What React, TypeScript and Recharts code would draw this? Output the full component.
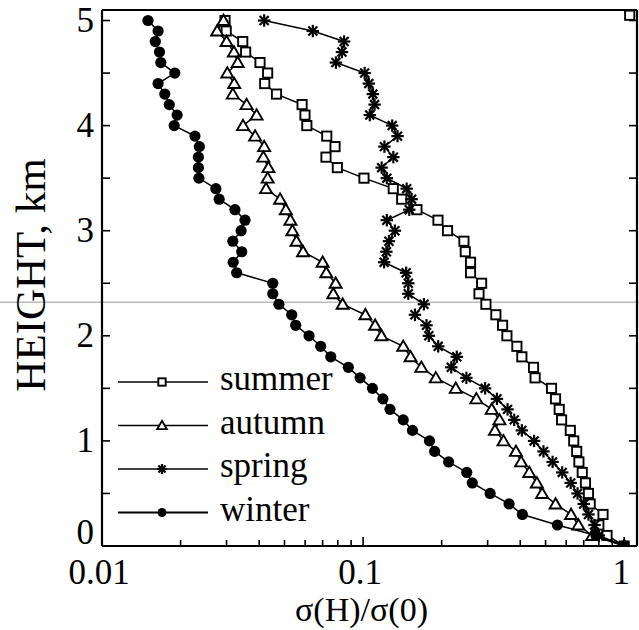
import React from "react";
import {
  ScatterChart,
  Scatter,
  XAxis,
  YAxis,
  Legend,
  ReferenceLine,
} from "recharts";

const FONT = '"Liberation Serif", "Times New Roman", Times, serif';

// heights shared by all four profiles, km
const HEIGHTS = [
  5.0, 4.9, 4.8, 4.7, 4.6, 4.5, 4.4, 4.3, 4.2, 4.1,
  4.0, 3.9, 3.8, 3.7, 3.6, 3.5, 3.4, 3.3, 3.2, 3.1,
  3.0, 2.9, 2.8, 2.7, 2.6, 2.5, 2.4, 2.3, 2.2, 2.1,
  2.0, 1.9, 1.8, 1.7, 1.6, 1.5, 1.4, 1.3, 1.2, 1.1,
  1.0, 0.9, 0.8, 0.7, 0.6, 0.5, 0.4, 0.3, 0.2, 0.1, 0,
];

// sigma(H)/sigma(0) for each season, same order as HEIGHTS
const SUMMER = [
  0.0296, 0.0299, 0.0346, 0.0355, 0.0403, 0.0431, 0.042, 0.0466, 0.0584, 0.0599,
  0.0609, 0.0726, 0.0781, 0.0721, 0.0797, 0.1008, 0.1305, 0.1406, 0.1608, 0.1936,
  0.2106, 0.2434, 0.2463, 0.258, 0.258, 0.2845, 0.278, 0.2955, 0.3226, 0.3423,
  0.3556, 0.3883, 0.4057, 0.4497, 0.456, 0.527, 0.546, 0.564, 0.576, 0.622,
  0.641, 0.658, 0.671, 0.691, 0.711, 0.73, 0.741, 0.83, 0.8, 0.86, 1.0,
];

const AUTUMN = [
  0.0292, 0.0276, 0.03, 0.032, 0.0331, 0.0302, 0.0321, 0.0317, 0.0358, 0.0391,
  0.0347, 0.0386, 0.0418, 0.0415, 0.0434, 0.0431, 0.0425, 0.0481, 0.0506, 0.0527,
  0.0536, 0.0556, 0.0589, 0.07, 0.0723, 0.0785, 0.0769, 0.0835, 0.102, 0.1112,
  0.1176, 0.1425, 0.152, 0.1672, 0.19, 0.2265, 0.2716, 0.311, 0.333, 0.32,
  0.345, 0.385, 0.403, 0.433, 0.463, 0.485, 0.546, 0.626, 0.668, 0.755, 1.0,
];

const SPRING = [
  0.0418, 0.0642, 0.0846, 0.083, 0.0787, 0.1014, 0.1052, 0.109, 0.1107, 0.1061,
  0.1293, 0.1355, 0.1207, 0.1306, 0.1178, 0.1233, 0.1469, 0.1534, 0.1503, 0.1233,
  0.1324, 0.1256, 0.1228, 0.1204, 0.1462, 0.149, 0.149, 0.171, 0.158, 0.175,
  0.1786, 0.194, 0.2285, 0.2177, 0.2487, 0.2935, 0.3256, 0.3575, 0.3793, 0.4057,
  0.452, 0.491, 0.532, 0.579, 0.624, 0.663, 0.7, 0.73, 0.77, 0.8, 1.0,
];

const WINTER = [
  0.015, 0.0164, 0.016, 0.0166, 0.0168, 0.019, 0.0164, 0.0174, 0.0181, 0.0194,
  0.0189, 0.0227, 0.0236, 0.0234, 0.0234, 0.0235, 0.0273, 0.0281, 0.0323, 0.0353,
  0.0341, 0.0317, 0.0343, 0.0318, 0.0328, 0.0451, 0.0451, 0.0476, 0.0533, 0.0552,
  0.0621, 0.0688, 0.0752, 0.0878, 0.0974, 0.1086, 0.1191, 0.1268, 0.1425, 0.1546,
  0.1796, 0.188, 0.2126, 0.2496, 0.262, 0.3067, 0.3624, 0.4076, 0.555, 0.78, 1.0,
];

// lone square sitting in the top right corner of the frame
const STRAY = [{ x: 1.05, y: 5.05 }];

const X_TICKS = [
  0.01, 0.02, 0.03, 0.04, 0.05, 0.06, 0.07, 0.08, 0.09,
  0.1, 0.2, 0.3, 0.4, 0.5, 0.6, 0.7, 0.8, 0.9, 1,
];
const X_LABELS = [0.01, 0.1, 1];
const Y_TICKS = [0, 0.5, 1, 1.5, 2, 2.5, 3, 3.5, 4, 4.5, 5];
const Y_LABELS = [0, 1, 2, 3, 4, 5];

type Kind = "square" | "triangle" | "star" | "circle";

const SERIES: { name: string; kind: Kind; values: number[] }[] = [
  { name: "summer", kind: "square", values: SUMMER },
  { name: "autumn", kind: "triangle", values: AUTUMN },
  { name: "spring", kind: "star", values: SPRING },
  { name: "winter", kind: "circle", values: WINTER },
];

const toPoints = (values: number[]) =>
  values.map((v, i) => ({ x: v, y: HEIGHTS[i] }));

const Marker = ({ kind, cx, cy, s = 1 }: { kind: Kind; cx: number; cy: number; s?: number }) => {
  if (kind === "square") {
    const h = 4.6 * s;
    return (
      <rect x={cx - h} y={cy - h} width={2 * h} height={2 * h}
        fill="#fff" stroke="#000" strokeWidth={1.9} />
    );
  }
  if (kind === "triangle") {
    const w = 6 * s, t = 5.8 * s, b = 4.5 * s;
    return (
      <polygon
        points={`${cx},${cy - t} ${cx - w},${cy + b} ${cx + w},${cy + b}`}
        fill="#fff" stroke="#000" strokeWidth={1.9} />
    );
  }
  if (kind === "star") {
    const r = 6.2 * s, d = r * 0.72;
    return (
      <g stroke="#000" strokeWidth={2.2}>
        <line x1={cx - r} y1={cy} x2={cx + r} y2={cy} />
        <line x1={cx} y1={cy - r} x2={cx} y2={cy + r} />
        <line x1={cx - d} y1={cy - d} x2={cx + d} y2={cy + d} />
        <line x1={cx - d} y1={cy + d} x2={cx + d} y2={cy - d} />
      </g>
    );
  }
  return <circle cx={cx} cy={cy} r={5.6 * s} fill="#000" />;
};

const textStyle = { fontFamily: FONT, fontSize: 35, fill: "#000" };

// ticks point into the plot, labels sit outside
const BottomTick = ({ x, y, payload }: any) => {
  const major = X_LABELS.includes(payload.value);
  return (
    <g>
      <line x1={x} y1={y} x2={x} y2={y - (major ? 9 : 6)} stroke="#000" strokeWidth={1.6} />
      {major && (
        <text x={x - 3} y={y + 38} textAnchor="middle" {...textStyle}>
          {String(payload.value)}
        </text>
      )}
    </g>
  );
};

const TopTick = ({ x, y, payload }: any) => {
  const major = X_LABELS.includes(payload.value);
  return <line x1={x} y1={y} x2={x} y2={y + (major ? 9 : 6)} stroke="#000" strokeWidth={1.6} />;
};

const LeftTick = ({ x, y, payload }: any) => (
  <g>
    <line x1={x} y1={y} x2={x + 8} y2={y} stroke="#000" strokeWidth={1.6} />
    {Y_LABELS.includes(payload.value) && (
      <text x={x - 8} y={payload.value === 0 ? y - 2 : y + 11} textAnchor="end" {...textStyle}>
        {String(payload.value)}
      </text>
    )}
  </g>
);

const RightTick = ({ x, y }: any) => (
  <line x1={x} y1={y} x2={x - 8} y2={y} stroke="#000" strokeWidth={1.6} />
);

const renderLegend = () => (
  <svg width={250} height={180}>
    {SERIES.map((s, i) => {
      const cy = 22 + i * 43.5;
      return (
        <g key={s.name}>
          <line x1={8} y1={cy} x2={98} y2={cy} stroke="#000"
            strokeWidth={s.kind === "circle" ? 2.2 : 1.5} />
          <Marker kind={s.kind} cx={52} cy={cy} s={0.8} />
          <text x={110} y={cy + 8} {...textStyle}>{s.name}</text>
        </g>
      );
    })}
  </svg>
);

const axisLine = { stroke: "#000", strokeWidth: 2.2 };

export default function App() {
  return (
    <div style={{ position: "absolute", left: 0, top: 0, background: "#fff" }}>
      <ScatterChart width={639} height={630} margin={{ top: 0, right: 0, bottom: 0, left: 0 }}>
        <XAxis
          xAxisId="bottom"
          dataKey="x"
          type="number"
          scale="log"
          domain={[0.01, 1.12]}
          allowDataOverflow
          ticks={X_TICKS}
          interval={0}
          tickSize={0}
          tickMargin={0}
          tickLine={false}
          tick={BottomTick}
          axisLine={axisLine}
          height={84}
          label={{
            content: ({ viewBox }: any) => (
              <text x={viewBox.x + viewBox.width / 2 - 8} y={viewBox.y + 75}
                textAnchor="middle" {...textStyle} fontSize={34}>
                σ(H)/σ(0)
              </text>
            ),
          }}
        />
        <XAxis
          xAxisId="top"
          orientation="top"
          type="number"
          scale="log"
          domain={[0.01, 1.12]}
          allowDataOverflow
          ticks={X_TICKS}
          interval={0}
          tickSize={0}
          tickMargin={0}
          tickLine={false}
          tick={TopTick}
          axisLine={axisLine}
          height={10}
        />
        <YAxis
          yAxisId="left"
          dataKey="y"
          type="number"
          domain={[0, 5.1]}
          allowDataOverflow
          ticks={Y_TICKS}
          interval={0}
          tickSize={0}
          tickMargin={0}
          tickLine={false}
          tick={LeftTick}
          axisLine={axisLine}
          width={102}
          label={{
            content: ({ viewBox }: any) => (
              <text
                transform={`translate(${viewBox.x + 45}, ${viewBox.y + viewBox.height / 2 - 3}) rotate(-90)`}
                textAnchor="middle" {...textStyle} fontSize={43}>
                HEIGHT, km
              </text>
            ),
          }}
        />
        <YAxis
          yAxisId="right"
          orientation="right"
          type="number"
          domain={[0, 5.1]}
          allowDataOverflow
          ticks={Y_TICKS}
          interval={0}
          tickSize={0}
          tickMargin={0}
          tickLine={false}
          tick={RightTick}
          axisLine={axisLine}
          width={2}
        />
        <ReferenceLine
          xAxisId="bottom"
          yAxisId="left"
          segment={[{ x: 0.0001, y: 2.32 }, { x: 10, y: 2.32 }]}
          ifOverflow="visible"
          stroke="#9a9a9a"
          strokeWidth={1}
        />
        {SERIES.map((s) => (
          <Scatter
            key={s.name}
            name={s.name}
            xAxisId="bottom"
            yAxisId="left"
            data={toPoints(s.values)}
            line={{ stroke: "#000", strokeWidth: 1.5 }}
            shape={(p: any) => <Marker kind={s.kind} cx={p.cx} cy={p.cy} />}
            isAnimationActive={false}
          />
        ))}
        <Scatter
          name="stray"
          xAxisId="bottom"
          yAxisId="left"
          data={STRAY}
          legendType="none"
          shape={(p: any) => <Marker kind="square" cx={p.cx} cy={p.cy} />}
          isAnimationActive={false}
        />
        <Legend
          content={renderLegend}
          layout="vertical"
          align="center"
          verticalAlign="middle"
          wrapperStyle={{ left: 110, top: 360, width: 250 }}
        />
      </ScatterChart>
    </div>
  );
}
